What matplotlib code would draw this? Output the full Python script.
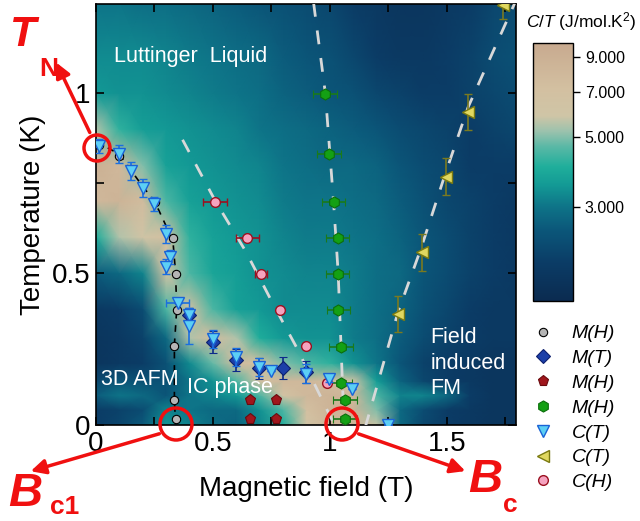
import numpy as np
import matplotlib
matplotlib.use('Agg')
import matplotlib.pyplot as plt
from matplotlib.colors import LinearSegmentedColormap, LogNorm
from matplotlib.patches import Circle, FancyArrowPatch
from matplotlib.lines import Line2D

plt.rcParams['font.family'] = ['Liberation Sans', 'DejaVu Sans']
plt.rcParams['mathtext.fontset'] = 'custom'
plt.rcParams['mathtext.it'] = 'Liberation Sans:italic'
plt.rcParams['mathtext.rm'] = 'Liberation Sans'

# ---- C/T map (J/mol.K^2) ----
B_grid = [0.0, 0.1, 0.2, 0.3, 0.4, 0.5, 0.6, 0.7, 0.8, 0.9, 1.0, 1.1, 1.2, 1.3, 1.4, 1.5, 1.6, 1.7, 1.8]
T_grid = [0.07, 0.12, 0.16, 0.20, 0.25, 0.32, 0.40, 0.50, 0.60, 0.70, 0.80, 0.90, 1.00, 1.10, 1.25]
CT_map = [
    [2.0, 2.2, 2.6, 3.5, 3.2, 2.9, 2.7, 3.2, 4.0, 6.0, 8.0, 8.0, 6.0, 2.8, 2.2, 2.0, 1.9, 1.8, 1.8],
    [2.0, 2.1, 2.3, 3.2, 3.0, 2.8, 2.8, 3.4, 4.5, 7.0, 8.5, 8.5, 5.0, 2.8, 2.3, 2.0, 1.9, 1.8, 1.8],
    [2.6, 3.0, 2.8, 2.5, 3.0, 3.2, 3.5, 4.5, 6.5, 8.0, 8.5, 8.0, 4.5, 3.2, 3.2, 2.8, 2.0, 1.8, 1.8],
    [2.2, 2.5, 2.4, 2.4, 3.0, 3.4, 4.5, 7.0, 8.0, 8.0, 7.5, 6.0, 3.6, 2.7, 2.2, 2.0, 1.9, 1.8, 1.8],
    [1.8, 1.9, 2.0, 2.4, 3.3, 4.8, 7.5, 7.0, 5.0, 4.5, 4.2, 3.4, 3.0, 2.5, 2.1, 2.0, 1.9, 1.8, 1.8],
    [1.8, 1.9, 2.1, 2.8, 5.5, 7.5, 5.5, 4.0, 3.5, 3.4, 3.4, 3.1, 2.9, 2.6, 2.3, 2.1, 2.0, 1.9, 1.9],
    [1.9, 2.0, 2.3, 4.5, 7.0, 4.5, 3.7, 3.5, 3.3, 3.3, 3.3, 3.1, 2.9, 2.7, 2.4, 2.2, 2.0, 1.9, 1.9],
    [2.6, 2.8, 3.2, 6.5, 4.5, 3.8, 3.6, 3.4, 3.3, 3.2, 3.2, 3.1, 2.9, 2.8, 2.5, 2.3, 2.1, 2.0, 1.9],
    [4.0, 5.5, 6.0, 7.0, 4.2, 3.7, 3.5, 3.4, 3.2, 3.1, 3.1, 3.0, 2.9, 2.7, 2.5, 2.3, 2.1, 2.0, 1.9],
    [8.0, 8.5, 7.5, 4.5, 3.7, 3.5, 3.4, 3.3, 3.1, 3.0, 3.0, 2.9, 2.8, 2.6, 2.4, 2.2, 2.1, 2.0, 1.9],
    [9.0, 8.0, 5.0, 3.7, 3.5, 3.4, 3.3, 3.2, 3.0, 2.9, 2.8, 2.8, 2.7, 2.5, 2.3, 2.2, 2.0, 2.0, 2.0],
    [5.5, 4.2, 3.6, 3.5, 3.4, 3.3, 3.2, 3.0, 2.9, 2.8, 2.7, 2.6, 2.5, 2.3, 2.2, 2.1, 2.0, 2.1, 2.2],
    [3.5, 3.4, 3.4, 3.3, 3.2, 3.1, 3.0, 2.9, 2.7, 2.6, 2.5, 2.4, 2.2, 2.1, 2.0, 2.0, 2.1, 2.2, 2.3],
    [3.3, 3.3, 3.3, 3.2, 3.1, 3.0, 2.9, 2.8, 2.6, 2.5, 2.4, 2.2, 2.0, 1.9, 1.9, 2.0, 2.1, 2.3, 2.4],
    [3.0, 3.0, 2.9, 2.9, 2.8, 2.7, 2.6, 2.5, 2.4, 2.3, 2.2, 2.0, 1.9, 1.8, 1.8, 1.9, 2.0, 2.2, 2.3],
]

# ---- phase boundary points ----
# M(H), grey circles
mh_B = [0.013, 0.10, 0.252, 0.328, 0.34, 0.347, 0.335, 0.335, 0.34]
mh_T = [0.855, 0.825, 0.698, 0.598, 0.497, 0.397, 0.298, 0.147, 0.096]
# M(T), blue diamonds
mt_B = [0.399, 0.501, 0.597, 0.698, 0.798, 0.897]
mt_T = [0.383, 0.309, 0.258, 0.235, 0.237, 0.226]
mt_err = [0.02, 0.03, 0.03, 0.03, 0.03, 0.03]
# M(H), red pentagons
mp_B = [0.658, 0.768, 0.658, 0.768]
mp_T = [0.147, 0.147, 0.096, 0.096]
# M(H), green hexagons
mg_B = [0.979, 0.996, 1.016, 1.033, 1.033, 1.036, 1.047, 1.046, 1.064, 1.064]
mg_T = [0.997, 0.831, 0.697, 0.598, 0.497, 0.397, 0.295, 0.196, 0.147, 0.096]
mg_err = [0.05, 0.05, 0.05, 0.05, 0.05, 0.05, 0.05, 0.05, 0.05, 0.05]
# C(T), cyan triangles
ct_B = [0.013, 0.10, 0.15, 0.20, 0.249, 0.299, 0.316, 0.299, 0.349, 0.399, 0.397,
        0.499, 0.597, 0.698, 0.746, 0.897, 0.996, 1.095, 1.246]
ct_T = [0.853, 0.83, 0.784, 0.735, 0.692, 0.607, 0.545, 0.518, 0.416, 0.383, 0.353,
        0.316, 0.268, 0.24, 0.228, 0.221, 0.207, 0.178, 0.078]
ct_yerr = [0.02, 0.025, 0.025, 0.025, 0.02, 0.025, 0.02, 0.02, 0.0, 0.02, 0.05,
           0.025, 0.025, 0.025, 0.0, 0.025, 0.01, 0.0, 0.0]
ct_xerr = [0, 0, 0, 0, 0, 0, 0, 0, 0.05, 0, 0, 0, 0, 0, 0, 0, 0, 0, 0]
# C(T), yellow triangles
cy_B = [1.292, 1.392, 1.494, 1.591, 1.741]
cy_T = [0.386, 0.557, 0.768, 0.946, 1.244]
cy_err = [0.05, 0.05, 0.05, 0.05, 0.04]
# C(H), pink circles
ch_B = [0.509, 0.647, 0.705, 0.786, 0.897, 0.986]
ch_T = [0.697, 0.598, 0.497, 0.397, 0.298, 0.196]
ch_err = [0.05, 0.05, 0.025, 0.01, 0.01, 0.01]

# guide lines
bc1_B = [0.0, 0.1, 0.2, 0.25, 0.30, 0.33, 0.34, 0.345, 0.335, 0.335, 0.34]
bc1_T = [0.865, 0.83, 0.74, 0.70, 0.63, 0.58, 0.50, 0.40, 0.30, 0.15, 0.08]
lch_B = [0.37, 0.51, 0.64, 0.76, 0.86, 1.01]
lch_T = [0.87, 0.70, 0.56, 0.41, 0.29, 0.09]
lmg_B = [0.93, 0.98, 1.015, 1.035, 1.047, 1.06]
lmg_T = [1.25, 1.00, 0.70, 0.50, 0.30, 0.08]
lcy_B = [1.15, 1.29, 1.39, 1.49, 1.59, 1.79]
lcy_T = [0.07, 0.39, 0.57, 0.77, 0.96, 1.25]

legend_labels = ['M(H)', 'M(T)', 'M(H)', 'M(H)', 'C(T)', 'C(T)', 'C(H)']
cbar_ticks = [3, 5, 7, 9]

cmap = LinearSegmentedColormap.from_list('ct', [
    (0.00, '#0b2b50'), (0.15, '#0b3c66'), (0.27, '#0b5679'), (0.365, '#0e7488'),
    (0.45, '#139a95'), (0.52, '#1fae9b'), (0.60, '#5ab8a6'), (0.66, '#9cc2ad'),
    (0.72, '#cfc5a6'), (0.82, '#d3c0a1'), (1.00, '#c8aa8f')])
norm = LogNorm(1.5, 10)

fig = plt.figure(figsize=(6.4, 5.21), dpi=100)
ax = fig.add_axes([96/640, 1-425/521, 420/640, 421/521])

mesh = ax.pcolormesh(B_grid, T_grid, np.array(CT_map), cmap=cmap, norm=norm,
                     shading='gouraud', rasterized=True)

gl = dict(color='#d8d8d8', lw=2, dashes=(5, 5), zorder=3)
ax.plot(lch_B, lch_T, **gl)
ax.plot(lmg_B, lmg_T, **gl)
ax.plot(lcy_B, lcy_T, **gl)
ax.plot(bc1_B, bc1_T, color='k', lw=1.2, dashes=(4, 4), zorder=3)

ax.errorbar(mh_B, mh_T, xerr=0.008, fmt='o', ms=6, mfc='#b5b5b5', mec='k', mew=0.8,
            ecolor='k', elinewidth=0.8, capsize=2, zorder=5)
ax.errorbar(mp_B, mp_T, xerr=0.008, fmt='p', ms=8, mfc='#a0161c', mec='#6a0a0e', mew=0.8,
            ecolor='#6a0a0e', elinewidth=0.8, capsize=2, zorder=5)
ax.errorbar(mg_B, mg_T, xerr=mg_err, fmt='h', ms=8, mfc='#14a014', mec='#0b6e0b', mew=0.8,
            ecolor='#1a7a1a', elinewidth=1.2, capsize=3, zorder=5)
ax.errorbar(ch_B, ch_T, xerr=ch_err, fmt='o', ms=7, mfc='#f5a3bf', mec='#9b1020', mew=1,
            ecolor='#9b1020', elinewidth=1.2, capsize=3, zorder=5)
ax.errorbar(cy_B, cy_T, yerr=cy_err, fmt='<', ms=8, mfc='#e0d860', mec='#7a7a10', mew=1,
            ecolor='#7a7a20', elinewidth=1.2, capsize=3, zorder=5)
ax.errorbar(mt_B, mt_T, yerr=mt_err, fmt='D', ms=7, mfc='#1c3fa8', mec='#0d1f6e', mew=0.8,
            ecolor='#0d2a8a', elinewidth=1.2, capsize=3, zorder=6)
ax.errorbar(ct_B, ct_T, xerr=ct_xerr, yerr=ct_yerr, fmt='v', ms=8, mfc='#5ccff5', mec='#1a63d6',
            mew=1, ecolor='#1a6fe0', elinewidth=1.2, capsize=3, zorder=7)

ax.set_xlim(0, 1.795)
ax.set_ylim(0.078, 1.247)
ax.set_xticks([0, 0.5, 1, 1.5])
ax.set_xticklabels(['0', '0.5', '1', '1.5'])
ax.set_xticks([0.25, 0.75, 1.25, 1.75], minor=True)
ax.set_yticks([0.078, 0.5, 1.0])
ax.set_yticklabels(['0', '0.5', '1'])
ax.set_yticks([0.75], minor=True)
ax.tick_params(which='both', direction='in', top=True, right=True, length=6, width=1.2,
               labelsize=20, pad=4)
for s in ax.spines.values():
    s.set_linewidth(1.2)
ax.set_xlabel('Magnetic field (T)', fontsize=20, labelpad=14)
ax.set_ylabel('Temperature (K)', fontsize=20, labelpad=4)

wt = dict(color='white', fontsize=15.5, zorder=8)
ax.text(0.075, 1.10, 'Luttinger  Liquid', va='center', **wt)
ax.text(0.02, 0.205, '3D AFM', va='center', **wt)
ax.text(0.39, 0.183, 'IC phase', va='center', **wt)
ax.text(1.43, 0.25, 'Field\ninduced\nFM', va='center', linespacing=1.3, **wt)

# colour bar
cax = fig.add_axes([533/640, 1-301/521, 40/640, 258/521])
cb = fig.colorbar(mesh, cax=cax)
cb.set_ticks(cbar_ticks)
cb.set_ticklabels(['%.3f' % v for v in cbar_ticks])
cb.ax.minorticks_off()
cb.ax.tick_params(labelsize=11.5, length=5, width=1)
cb.outline.set_linewidth(1)
fig.text(526/640, 1-22/521, r'$C/T$ (J/mol.K$^2$)', fontsize=12.5, va='center')

# legend
handles = [
    Line2D([], [], ls='', marker='o', ms=6, mfc='#b5b5b5', mec='k', mew=0.8),
    Line2D([], [], ls='', marker='D', ms=7, mfc='#1c3fa8', mec='#0d1f6e', mew=0.8),
    Line2D([], [], ls='', marker='p', ms=8, mfc='#a0161c', mec='#6a0a0e', mew=0.8),
    Line2D([], [], ls='', marker='h', ms=8, mfc='#14a014', mec='#0b6e0b', mew=0.8),
    Line2D([], [], ls='', marker='v', ms=8, mfc='#5ccff5', mec='#1a63d6', mew=1),
    Line2D([], [], ls='', marker='<', ms=8, mfc='#e0d860', mec='#7a7a10', mew=1),
    Line2D([], [], ls='', marker='o', ms=7, mfc='#f5a3bf', mec='#9b1020', mew=1),
]
fig.legend(handles, legend_labels, loc='upper left', bbox_to_anchor=(525/640, 1-317/521),
           frameon=False, prop={'size': 14, 'style': 'italic'}, labelspacing=0.37,
           handletextpad=1.0, handlelength=1.0, borderaxespad=0)

# red annotations (pixel coords via inches)
red = '#f01010'
def P(x, y):
    return (x/100, (521-y)/100)

for cx, cy, r in [(97, 148, 13), (176, 424, 16), (342, 424, 16)]:
    fig.add_artist(Circle(P(cx, cy), r/100, transform=fig.dpi_scale_trans,
                          fill=False, ec=red, lw=2.5, zorder=10))
for (x0, y0), (x1, y1) in [((91, 135), (55, 60)), ((162, 433), (28, 472)), ((356, 433), (468, 472))]:
    fig.add_artist(FancyArrowPatch(P(x0, y0), P(x1, y1), transform=fig.dpi_scale_trans,
                                   arrowstyle='-|>', mutation_scale=22, color=red, lw=2.5,
                                   zorder=10))

fig.text(10/640, 1-35/521, 'T', color=red, fontsize=31, fontweight='bold', style='italic', va='center')
fig.text(39/640, 1-69/521, 'N', color=red, fontsize=19, fontweight='bold', va='center')
fig.text(8/640, 1-494/521, 'B', color=red, fontsize=34, fontweight='bold', style='italic', va='center')
fig.text(50/640, 1-507/521, 'c1', color=red, fontsize=19, fontweight='bold', va='center')
fig.text(468/640, 1-480/521, 'B', color=red, fontsize=34, fontweight='bold', style='italic', va='center')
fig.text(503/640, 1-505/521, 'c', color=red, fontsize=19, fontweight='bold', va='center')

fig.savefig('out.png', dpi=100)
